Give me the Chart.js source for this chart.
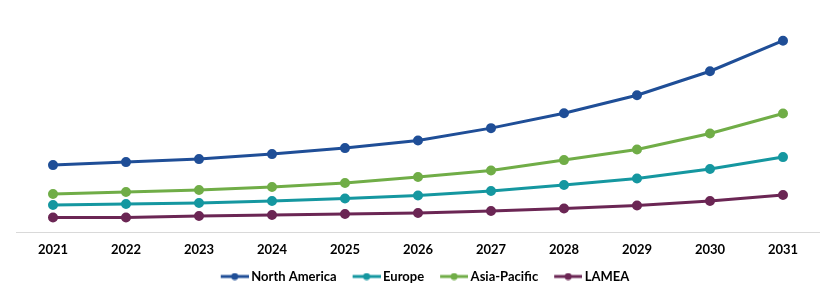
<!DOCTYPE html>
<html><head><meta charset="utf-8">
<script src="https://cdn.jsdelivr.net/npm/chart.js@4/dist/chart.umd.min.js"></script>
<style>html,body{margin:0;padding:0;background:#fff}#wrap{width:834px;height:296px}</style>
</head><body><div id="wrap"><canvas id="c" width="834" height="296"></canvas></div>
<script>
const years = ['2021','2022','2023','2024','2025','2026','2027','2028','2029','2030','2031'];
const northAmerica = [67.4, 70.4, 73.4, 78.4, 84.4, 92, 104.4, 119.4, 137.4, 161.4, 192];
const europe = [27.4, 28.4, 29.4, 31.4, 34, 37, 41.4, 47.4, 54, 63.4, 75.4];
const asiaPacific = [38.4, 40.4, 42.4, 45.4, 49.4, 55.4, 62, 72.4, 83, 99, 119];
const lamea = [15, 15, 16.4, 17.4, 18.4, 19.4, 21.4, 24, 27, 31.4, 37.4];
const seriesNames = ['North America','Europe','Asia-Pacific','LAMEA'];
const colors = ['#1F4E97','#1597A0','#70AD47','#6B2654'];

const BOXW = 38;
function legendMarker(color){
  const cv = document.createElement('canvas');
  cv.width = BOXW + 8; cv.height = 8;
  const g = cv.getContext('2d');
  const x1 = cv.width, x0 = x1 - 28;
  g.strokeStyle = color; g.lineWidth = 3;
  g.beginPath(); g.moveTo(x0,4); g.lineTo(x1,4); g.stroke();
  g.fillStyle = color; g.beginPath(); g.arc(x0+14,4,3.5,0,Math.PI*2); g.fill();
  return cv;
}
const markers = colors.map(legendMarker);
const all = [northAmerica, europe, asiaPacific, lamea];

new Chart(document.getElementById('c'), {
  type: 'line',
  data: {
    labels: years,
    datasets: all.map((d,i)=>({
      label: seriesNames[i], data: d,
      borderColor: colors[i], backgroundColor: colors[i],
      borderWidth: 3, pointRadius: 3.5, pointHoverRadius: 3.5,
      pointStyle: 'circle', tension: 0
    }))
  },
  options: {
    responsive: false, animation: false,
    layout: { padding: { left: 16.5, right: 14.5, top: 12.7, bottom: 3 } },
    scales: {
      x: {
        offset: true,
        grid: { display: false, drawTicks: false },
        border: { display: true, color: '#D9D9D9', width: 1 },
        ticks: { color: '#000', padding: 10, font: { family: 'Lato', weight: 'bold', size: 13 } }
      },
      y: { display: false, min: 0, max: 220 }
    },
    plugins: {
      tooltip: { enabled: false },
      legend: {
        position: 'bottom',
        labels: {
          usePointStyle: true, pointStyleWidth: BOXW, padding: 40 - BOXW,
          color: '#000', font: { family: 'Lato', weight: 'bold', size: 13 },
          generateLabels(chart){
            return chart.data.datasets.map((ds,i)=>({
              text: ds.label, pointStyle: markers[i], fillStyle: colors[i],
              strokeStyle: colors[i], lineWidth: 0, datasetIndex: i, hidden: false,
              fontColor: '#000'
            }));
          }
        }
      }
    }
  }
});
</script></body></html>
